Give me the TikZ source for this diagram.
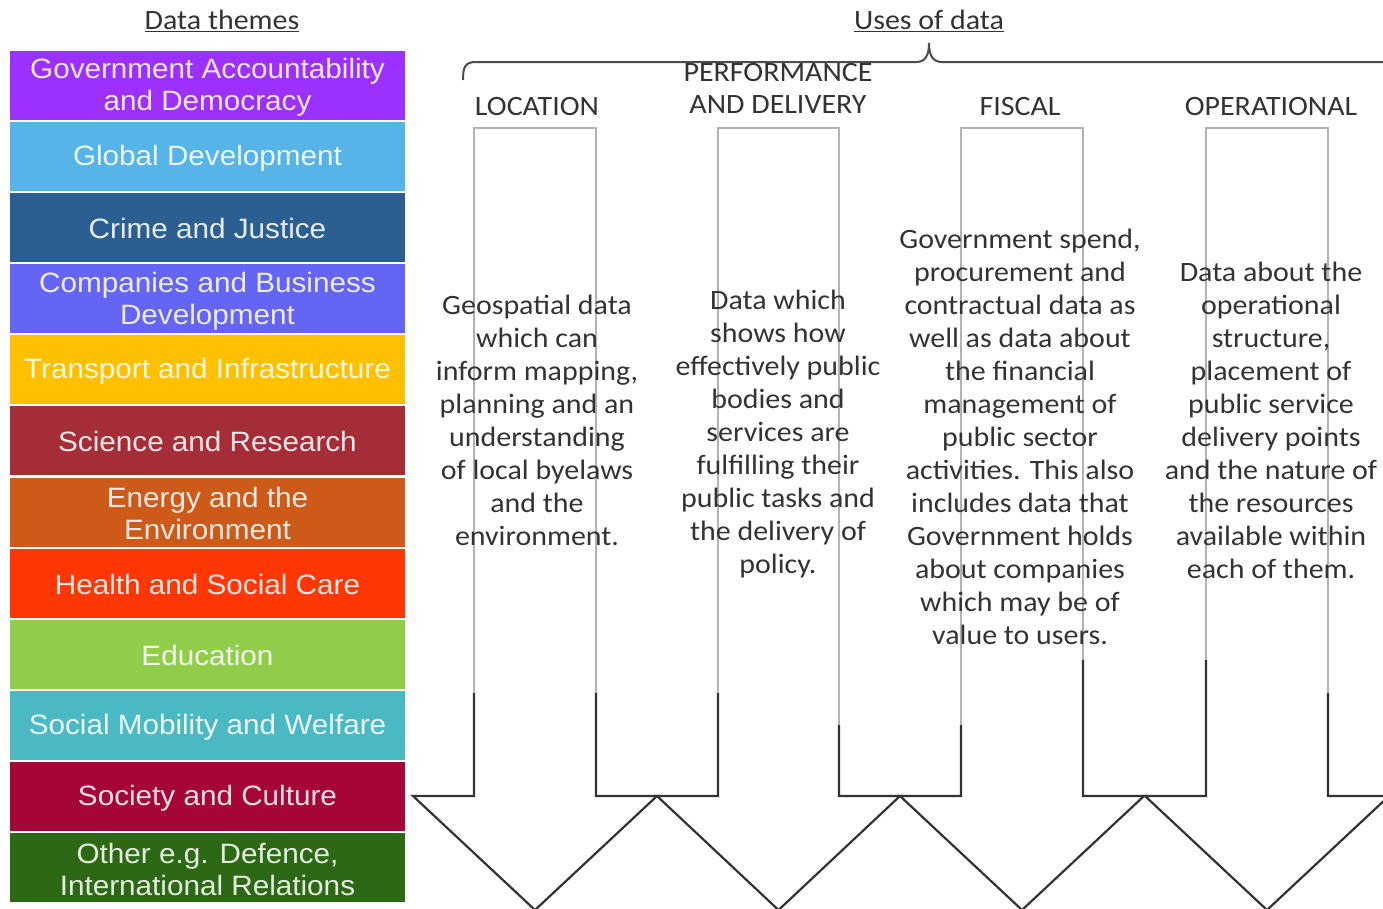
\documentclass[tikz,border=0pt]{standalone}
\usepackage{fontspec}
\setmainfont{Carlito}[FakeStretch=1.07]
\newfontfamily\themefont{Liberation Sans}[FakeStretch=1.06]
\definecolor{cGov}{HTML}{9B30FF}
\definecolor{cGlobal}{HTML}{56B4E9}
\definecolor{cCrime}{HTML}{2C5F91}
\definecolor{cComp}{HTML}{6464F5}
\definecolor{cTrans}{HTML}{FFC000}
\definecolor{cSci}{HTML}{A52D37}
\definecolor{cEnergy}{HTML}{CD5A19}
\definecolor{cHealth}{HTML}{FF3705}
\definecolor{cEdu}{HTML}{91CD4B}
\definecolor{cSocial}{HTML}{4BB9C3}
\definecolor{cSociety}{HTML}{A50537}
\definecolor{cOther}{HTML}{2D6914}
\begin{document}
\begin{tikzpicture}[x=1pt,y=-1pt,
  theme/.style={fill=#1, draw=none, minimum width=395pt, minimum height=69pt,
    inner sep=0pt, text=white, text opacity=0.88,
    font=\themefont\fontsize{28}{32}\selectfont, align=center},
  themetext/.style={text=white, text opacity=0.88, inner sep=0pt,
    font=\themefont\fontsize{28}{32}\selectfont, align=center},
  bodytext/.style={text=black!80, font=\fontsize{28}{33}\selectfont, align=center, inner sep=0pt},
  headtext/.style={text=black!80, font=\fontsize{28}{32}\selectfont, align=center, inner sep=0pt},
  lite/.style={draw=black!30, line width=1.5pt},
  darkline/.style={draw=black!80, line width=2.2pt, line join=miter},
  bracestyle/.style={draw=black!70, line width=2pt}
]
\useasboundingbox (0,0) rectangle (1383,908);
\fill[white] (0,0) rectangle (1383,908);

% titles
\node[headtext] (tThemes) at (222,21) {\underline{Data themes}};
\node[headtext] (tUses) at (929,21) {\underline{Uses of data}};

% theme boxes
\node[theme=cGov]     (th1)  at (207.5,85.5)  {};
\node[theme=cGlobal]  (th2)  at (207.5,156.6) {};
\node[theme=cCrime]   (th3)  at (207.5,227.7) {};
\node[theme=cComp]    (th4)  at (207.5,298.8) {};
\node[theme=cTrans]   (th5)  at (207.5,369.8) {};
\node[theme=cSci]     (th6)  at (207.5,440.9) {};
\node[theme=cEnergy]  (th7)  at (207.5,512.0) {};
\node[theme=cHealth]  (th8)  at (207.5,583.1) {};
\node[theme=cEdu]     (th9)  at (207.5,654.2) {};
\node[theme=cSocial]  (th10) at (207.5,725.3) {};
\node[theme=cSociety] (th11) at (207.5,796.4) {};
\node[theme=cOther]   (th12) at (207.5,867.4) {};
\node[themetext] (x1)  at ([yshift=-2pt]th1.center)  {Government Accountability\\and Democracy};
\node[themetext] (x2)  at ([yshift=-2pt]th2.center)  {Global Development};
\node[themetext] (x3)  at ([yshift=-1pt]th3.center)  {Crime and Justice};
\node[themetext] (x4)  at ([yshift=-2pt]th4.center)  {Companies and Business\\Development};
\node[themetext] (x5)  at ([yshift=-1pt]th5.center)  {Transport and Infrastructure};
\node[themetext] (x6)  at ([yshift=-1pt]th6.center)  {Science and Research};
\node[themetext] (x7)  at ([yshift=-1pt]th7.center)  {Energy and the\\Environment};
\node[themetext] (x8)  at ([yshift=-1pt]th8.center)  {Health and Social Care};
\node[themetext] (x9)  at ([yshift=-1pt]th9.center)  {Education};
\node[themetext] (x10) at ([yshift=-2pt]th10.center) {Social Mobility and Welfare};
\node[themetext] (x11) at ([yshift=-2pt]th11.center) {Society and Culture};
\node[themetext] (x12) at ([yshift=-2pt]th12.center) {Other e.g. Defence,\\International Relations};

% brace
\draw[bracestyle] (463,80) .. controls (463,67) and (465,62) .. (476,62) -- (916,62)
  .. controls (925,62) and (929,56) .. (929,43)
  .. controls (929,56) and (933,62) .. (942,62) -- (1383,62);

% arrows: light upper parts
\draw[lite] (474,693) -- (474,128) -- (596,128) -- (596,693);
\draw[lite] (718,693) -- (718,128) -- (839,128) -- (839,725);
\draw[lite] (961,725) -- (961,128) -- (1083,128) -- (1083,660);
\draw[lite] (1206,660) -- (1206,128) -- (1328,128) -- (1328,693);
% arrows: dark lower parts
\draw[darkline] (474,693) -- (474,796) -- (413,796) -- (535,910) -- (657,796) -- (596,796) -- (596,693);
\draw[darkline] (718,693) -- (718,796) -- (657,796) -- (778.5,910) -- (900,796) -- (839,796) -- (839,725);
\draw[darkline] (961,725) -- (961,796) -- (900,796) -- (1022,910) -- (1144,796) -- (1083,796) -- (1083,660);
\draw[darkline] (1206,660) -- (1206,796) -- (1145,796) -- (1267,910) -- (1389,796) -- (1328,796) -- (1328,693);

% column heads
\node[headtext] (hLoc)  at (537,107) {LOCATION};
\node[headtext] (hPerf) at (778,88)  {PERFORMANCE\\AND DELIVERY};
\node[headtext] (hFis)  at (1020,107) {FISCAL};
\node[headtext] (hOp)   at (1271,107) {OPERATIONAL};

% body texts
\node[bodytext] (bLoc) at (537,420.5) {Geospatial data\\which can\\inform mapping,\\planning and an\\understanding\\of local byelaws\\and the\\environment.};
\node[bodytext] (bPerf) at (778,434) {Data which\\shows how\\effectively public\\bodies and\\services are\\fulfilling their\\public tasks and\\the delivery of\\policy.};
\node[bodytext] (bFis) at (1020,437) {Government spend,\\procurement and\\contractual data as\\well as data about\\the financial\\management of\\public sector\\activities. This also\\includes data that\\Government holds\\about companies\\which may be of\\value to users.};
\node[bodytext] (bOp) at (1271,420.5) {Data about the\\operational\\structure,\\placement of\\public service\\delivery points\\and the nature of\\the resources\\available within\\each of them.};
\end{tikzpicture}
\end{document}
